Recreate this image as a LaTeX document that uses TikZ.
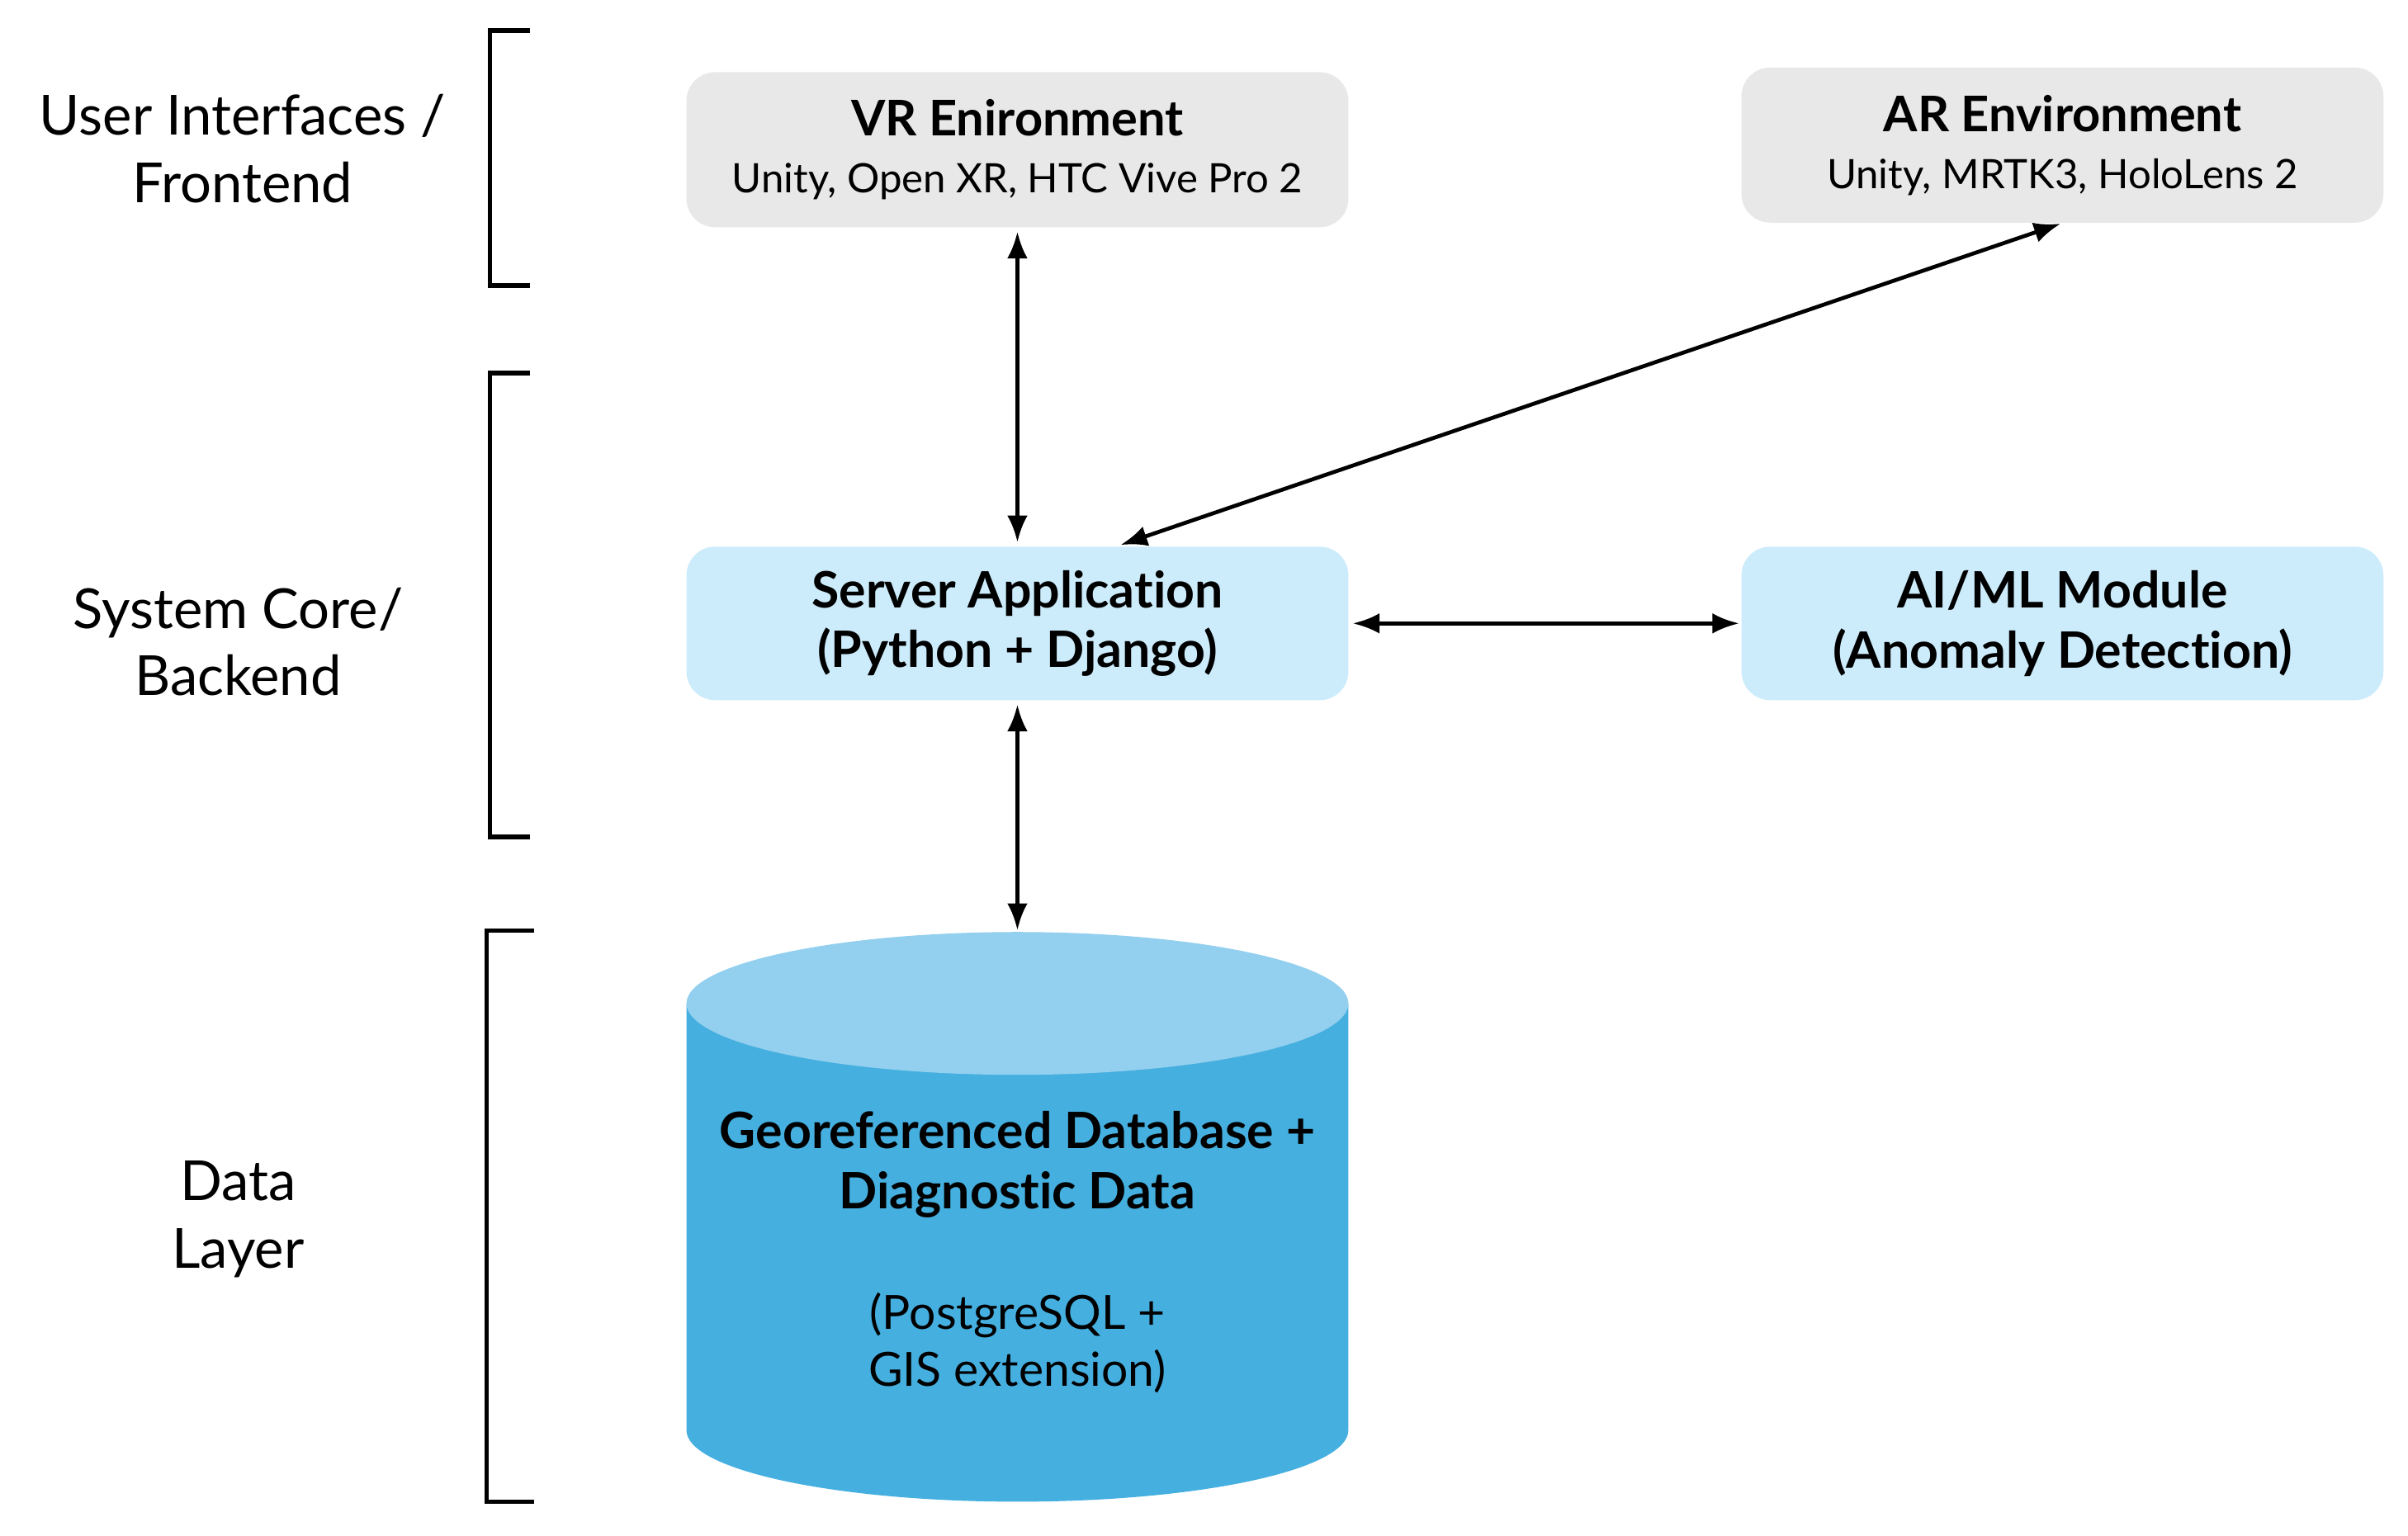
\documentclass[tikz,border=0pt]{standalone}
\usepackage{fontspec}
\setmainfont{Lato}[Ligatures=NoCommon]
\usepackage{xcolor}
\usetikzlibrary{arrows.meta,calc}

\definecolor{uigray}{RGB}{232,232,232}
\definecolor{corebl}{RGB}{204,236,251}
\definecolor{dbtop}{RGB}{147,207,238}
\definecolor{dbbody}{RGB}{69,175,224}

\tikzset{
  layerlbl/.style={align=center,font=\fontsize{27}{33}\selectfont},
  uibox/.style={rounded corners=14pt,fill=uigray,minimum height=75.75pt,align=center,
    font=\fontsize{19.8}{27.75}\selectfont},
  corebox/.style={rounded corners=14pt,fill=corebl,minimum height=75pt,align=center,
    font=\fontsize{24.5}{29.25}\bfseries\selectfont},
  bracket/.style={line width=2.2pt},
  link/.style={line width=1.9pt,{Latex[length=13pt,width=10pt]}-{Latex[length=13pt,width=10pt]}}
}

\begin{document}
\begin{tikzpicture}[x=0.75pt,y=0.75pt,yscale=-1,xscale=1]
\useasboundingbox (0,0) rectangle (1568,1000);

%Shape: Brackets
\draw [bracket] (345,20) -- (319,20) -- (319,186) -- (345,186) ;
\draw [bracket] (345,243) -- (319,243) -- (319,545) -- (345,545) ;
\draw [bracket] (348,606) -- (317,606) -- (317,978) -- (348,978) ;

% Text Node
\node [layerlbl] (lfront) at (158,97) {User Interfaces /\\Frontend};
% Text Node
\node [layerlbl] (lcore) at (155,418) {System Core/\\Backend};
% Text Node
\node [layerlbl] (ldata) at (155,794) {Data\\Layer};

%Shape: Rounded Rectangle
\node [uibox,minimum width=323.25pt] (vr) at (662.5,97.5)
  {{\fontsize{24}{27.75}\bfseries\selectfont VR Enironment}\\Unity, Open XR, HTC Vive Pro 2};
%Shape: Rounded Rectangle
\node [uibox,minimum width=313.5pt] (ar) at (1343,94.5)
  {{\fontsize{24}{27.75}\bfseries\selectfont AR Environment}\\Unity, MRTK3, HoloLens 2};
%Shape: Rounded Rectangle
\node [corebox,minimum width=323.25pt] (srv) at (662.5,406)
  {Server Application\\(Python + Django)};
%Shape: Rounded Rectangle
\node [corebox,minimum width=313.5pt] (aiml) at (1343,406)
  {AI/ML Module\\(Anomaly Detection)};

%Shape: Can
\fill [dbbody] (447,653.5) -- (447,931.5) arc [start angle=180,end angle=0,x radius=215.5,y radius=46.5]
  -- (878,653.5) -- cycle ;
\fill [dbtop] (662.5,653.5) ellipse [x radius=215.5,y radius=46.5] ;
\coordinate (dbin) at (662.5,607);
% Text Node
\node [align=center,font=\fontsize{24.5}{29.25}\bfseries\selectfont] (db) at (662.5,758.5)
  {Georeferenced Database +\\Diagnostic Data};
% Text Node
\node [align=center,font=\fontsize{23}{27.75}\selectfont] (dbnote) at (662.5,874.5)
  {(PostgreSQL +\\GIS extension)};

%Straight Lines
\draw [link,shorten <=2pt,shorten >=2pt] (vr.south) -- (srv.north) ;
\draw [link,shorten <=1pt,shorten >=2pt] (ar.south) -- ($(srv.north)!0.3!(srv.north east)$) ;
\draw [link,shorten <=2pt,shorten >=1pt] (srv.east) -- (aiml.west) ;
\draw [link,shorten <=2pt,shorten >=1pt] (srv.south) -- (dbin) ;

\end{tikzpicture}
\end{document}
